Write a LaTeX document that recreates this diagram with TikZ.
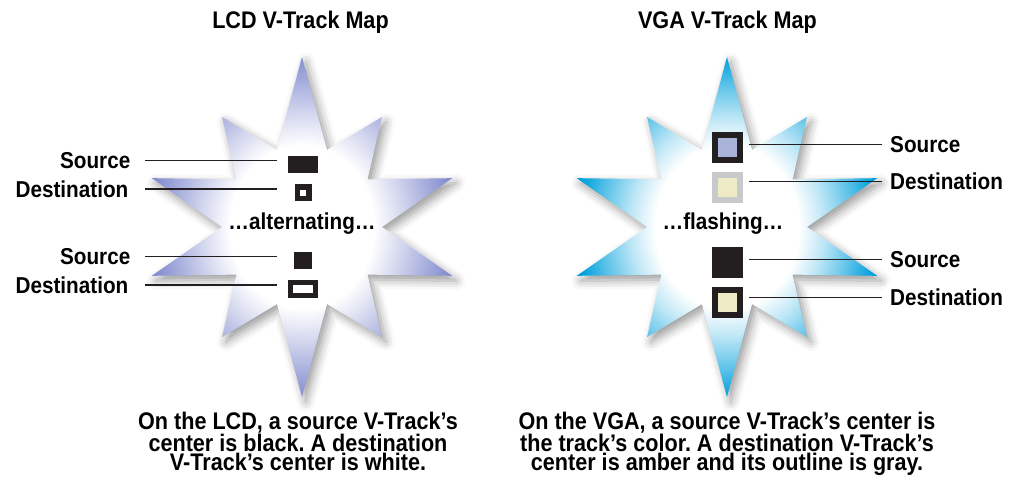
\documentclass[tikz,border=0pt]{standalone}
\usepackage{fontspec}
\setmainfont{Liberation Sans}[FakeStretch=0.9]
\usepackage{tikz}
\usetikzlibrary{shadows.blur}
\frenchspacing
\definecolor{trackblack}{RGB}{35,31,32}
\definecolor{lcdblue}{RGB}{133,143,208}
\definecolor{vgablue}{RGB}{0,160,220}
\definecolor{tracklav}{RGB}{170,180,218}
\definecolor{amber}{RGB}{239,234,198}
\definecolor{outlinegray}{RGB}{200,201,203}
\pgfdeclareradialshading{lcdglow}{\pgfpoint{0bp}{0bp}}{color(0bp)=(white); color(12bp)=(white); color(16bp)=(lcdblue!30); color(21bp)=(lcdblue!70); color(25bp)=(lcdblue); color(50bp)=(lcdblue)}
\pgfdeclareradialshading{vgaglow}{\pgfpoint{0bp}{0bp}}{color(0bp)=(white); color(12bp)=(white); color(16bp)=(vgablue!25); color(21bp)=(vgablue!65); color(25bp)=(vgablue); color(50bp)=(vgablue)}

\begin{document}
\begin{tikzpicture}[x=1pt,y=1pt,
  starglow/.style={blur shadow={shadow xshift=4pt,shadow yshift=-5pt,shadow blur radius=9pt,shadow opacity=40}},
  lbl/.style={font=\bfseries\fontsize{23}{23}\selectfont,inner ysep=0pt},
  heading/.style={font=\bfseries\fontsize{24}{24}\selectfont,inner sep=0pt},
  caption/.style={font=\bfseries\fontsize{24}{19.5}\selectfont,align=center,inner sep=0pt,text depth=0pt,anchor=south},
  lead/.style={trackblack,line width=1.2pt},
  solid track/.style={fill=trackblack,inner sep=0pt},
  framed track/.style={draw=#1,line width=6pt,inner sep=0pt,minimum size=25pt}]
\useasboundingbox (0,0) rectangle (1021,477);

\shade[starglow,shading=lcdglow,shift={(302,250)}]
  (90:170) -- (108:81) -- (126:136) -- (144:81) -- (162:158) -- (180:80)
  -- (198:158) -- (216:81) -- (234:136) -- (252:81) -- (270:170) -- (288:81)
  -- (306:136) -- (324:81) -- (342:158) -- (0:80) -- (18:158) -- (36:81)
  -- (54:136) -- (72:81) -- cycle;
\shade[starglow,shading=vgaglow,shift={(727,250)}]
  (90:170) -- (108:81) -- (126:136) -- (144:81) -- (162:158) -- (180:80)
  -- (198:158) -- (216:81) -- (234:136) -- (252:81) -- (270:170) -- (288:81)
  -- (306:136) -- (324:81) -- (342:158) -- (0:80) -- (18:158) -- (36:81)
  -- (54:136) -- (72:81) -- cycle;

\node[heading] (lcdTitle) at (300.5,454.6) {LCD V-Track Map};
\node[heading] (vgaTitle) at (727.5,454.6) {VGA V-Track Map};

\node[solid track,minimum width=30pt,minimum height=17pt] (srcA) at (303,312.5) {};
\node[draw=trackblack,line width=5.5pt,fill=white,inner sep=0pt,minimum size=11.5pt] (dstA) at (303,284.2) {};
\node[solid track,minimum size=17.5pt] (srcB) at (303,216.5) {};
\node[draw=trackblack,line width=5pt,fill=white,inner sep=0pt,minimum width=25pt,minimum height=12.7pt] (dstB) at (303,188.2) {};
\node[lbl] (altTxt) at (302,253.2) {…alternating…};

\node[lbl,anchor=east,inner xsep=14.5pt] (srcAlbl) at (145,316.3) {Source};
\node[lbl,anchor=east,inner xsep=16.5pt] (dstAlbl) at (145,288) {Destination};
\node[lbl,anchor=east,inner xsep=14.5pt] (srcBlbl) at (145,220.3) {Source};
\node[lbl,anchor=east,inner xsep=16.5pt] (dstBlbl) at (145,192) {Destination};
\coordinate (srcAend) at (277,316.3);
\coordinate (dstAend) at (277,288);
\coordinate (srcBend) at (277,220.3);
\coordinate (dstBend) at (277,192);
\draw[lead] (srcAlbl.east) -- (srcAend);
\draw[lead] (dstAlbl.east) -- (dstAend);
\draw[lead] (srcBlbl.east) -- (srcBend);
\draw[lead] (dstBlbl.east) -- (dstBend);

\node[framed track=trackblack,fill=tracklav] (srcC) at (727.2,329.3) {};
\node[framed track=outlinegray,fill=amber] (dstC) at (727.2,289.3) {};
\node[solid track,minimum size=31pt] (srcD) at (727.2,214) {};
\node[framed track=trackblack,fill=amber] (dstD) at (727.2,174) {};
\node[lbl] (flashTxt) at (723,253.2) {…flashing…};

\node[lbl,anchor=west,inner xsep=8pt] (srcClbl) at (882,332.7) {Source};
\node[lbl,anchor=west,inner xsep=8pt] (dstClbl) at (882,295.3) {Destination};
\node[lbl,anchor=west,inner xsep=8pt] (srcDlbl) at (882,217.7) {Source};
\node[lbl,anchor=west,inner xsep=8pt] (dstDlbl) at (882,179.7) {Destination};
\coordinate (srcCend) at (749,332.7);
\coordinate (dstCend) at (749,295.3);
\coordinate (srcDend) at (749,217.7);
\coordinate (dstDend) at (749,179.7);
\draw[lead] (srcCend) -- (srcClbl.west);
\draw[lead] (dstCend) -- (dstClbl.west);
\draw[lead] (srcDend) -- (srcDlbl.west);
\draw[lead] (dstDend) -- (dstDlbl.west);

\node[caption] (lcdNote) at (298,6) {On the LCD, a source V-Track’s\\center is black. A destination\\V-Track’s center is white.};
\node[caption] (vgaNote) at (727,6) {On the VGA, a source V-Track’s center is\\the track’s color. A destination V-Track’s\\center is amber and its outline is gray.};
\end{tikzpicture}
\end{document}
